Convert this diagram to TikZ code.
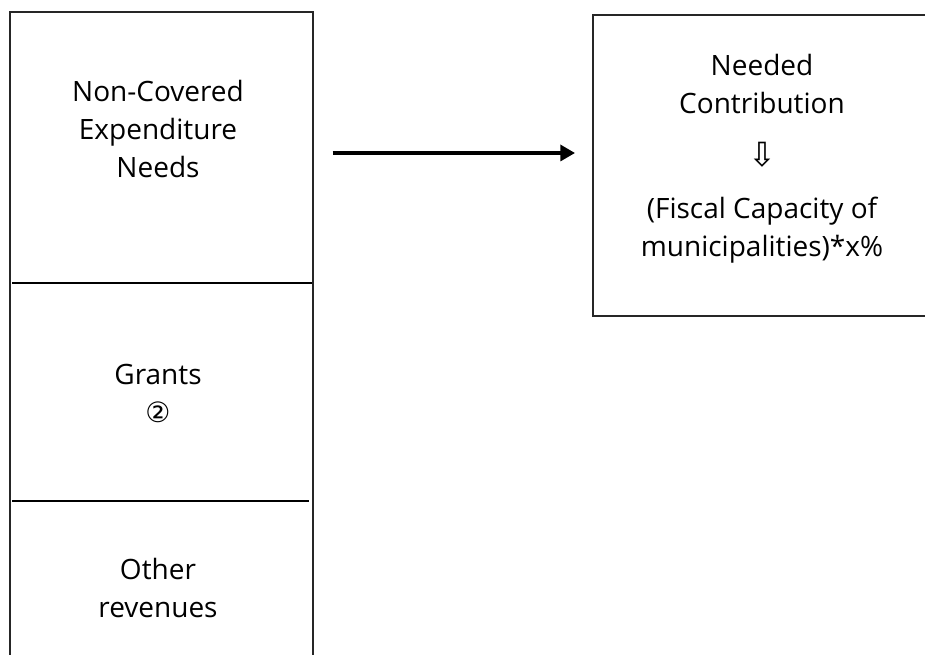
\documentclass[tikz,border=0pt]{standalone}
\usepackage{fontspec}
\setmainfont{Open Sans}
\newfontfamily\symfont{DejaVu Sans}
\usetikzlibrary{arrows.meta}

\begin{document}
\begin{tikzpicture}[x=0.75pt, y=-0.75pt,
        box/.style={draw=black!85, line width=1.3pt, rectangle, inner sep=0pt},
        txt/.style={align=center, font=\fontsize{21}{28.5}\selectfont},
        divider/.style={draw=black, line width=2.2pt},
        flow/.style={draw=black, line width=2.5pt, -{Triangle[length=11pt, width=12pt]}}]
    \clip (0,0) rectangle (925,655);
    \begin{scope}[every node/.style=box]
        \node[anchor=north west, minimum width=227.25pt, minimum height=498pt] (col) at (9,11) {};
        \node[anchor=north west, minimum width=252pt, minimum height=225.75pt] (fund) at (592,14) {};
    \end{scope}
    \begin{scope}[every node/.style=txt]
        \node (needs) at (158,129) {Non-Covered\\Expenditure\\Needs};
        \node (grants) at (158,394) {Grants\\{\symfont ②}};
        \node (other) at (158,588) {Other\\revenues};
        \node (contrib) at (762,159) {Needed\\Contribution\\[11pt]{\symfont\fontsize{25}{25}\selectfont ⇩}\\[11pt](Fiscal Capacity of\\municipalities)*x\%};
    \end{scope}
    \draw[divider] ([shift={(3,272)}]col.north west) -- ([shift={(-2,272)}]col.north east);
    \draw[divider] ([shift={(3,490)}]col.north west) -- ([shift={(-5,490)}]col.north east);
    \draw[flow] ([shift={(19,142)}]col.north east) -- ([shift={(-17,139)}]fund.north west);
\end{tikzpicture}
\end{document}
